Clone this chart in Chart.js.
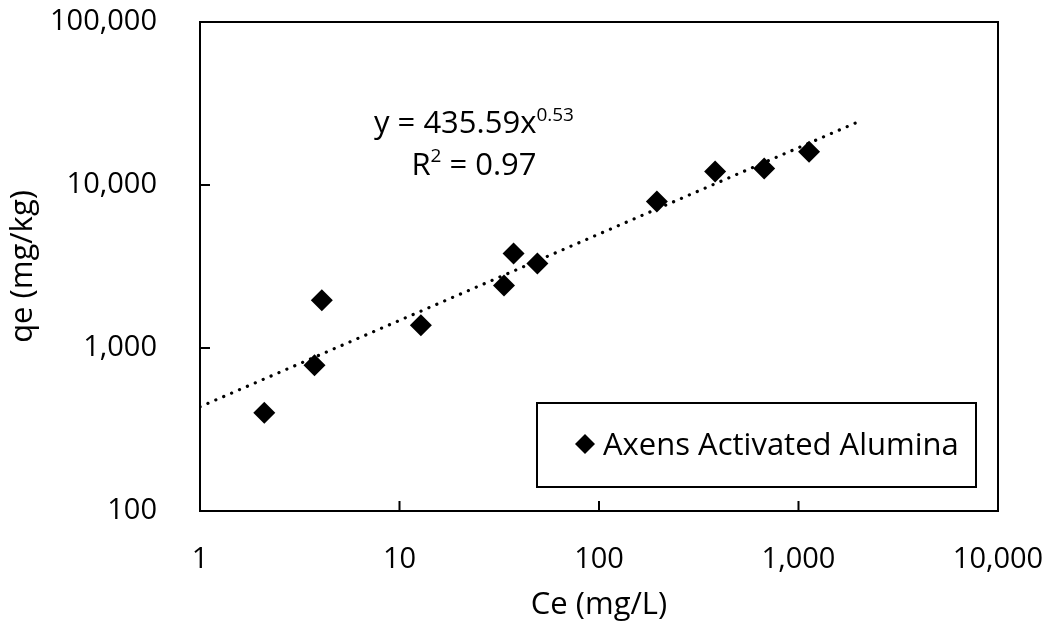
<!DOCTYPE html>
<html>
<head>
<meta charset="utf-8">
<script src="https://cdn.jsdelivr.net/npm/chart.js@4"></script>
<style>
    html, body { margin: 0; padding: 0; background: #fff; }
    #wrap { width: 1052px; height: 629px; position: relative; }
</style>
</head>
<body>
<div id="wrap"><canvas id="isothermChart" width="1052" height="629"></canvas></div>
<script>
// Measured points (Ce in mg/L, qe in mg/kg)
const ceValues = [2.1, 3.75, 4.08, 12.8, 33.4, 37.3, 49.1, 195, 382, 673, 1130];
const qeValues = [400, 783, 1965, 1380, 2417, 3800, 3300, 7920, 12100, 12630, 15990];

// Power trendline end points (straight on log-log axes)
const trendX = [1, 2100];
const trendY = [436, 25100];

// Axis ticks
const xTicks = [1, 10, 100, 1000, 10000];
const xTickLabels = ['1', '10', '100', '1,000', '10,000'];
const yTicks = [100, 1000, 10000, 100000];
const yTickLabels = ['100', '1,000', '10,000', '100,000'];

const seriesName = 'Axens Activated Alumina';
const eqMain = 'y = 435.59x';
const eqPower = '0.53';
const rLabel = 'R';
const rRest = ' = 0.97';

const FONT = '"Open Sans", "Noto Sans", sans-serif';
const FS = 29;   // tick labels
const FT = 31;   // titles, legend, equation
const FSUP = 19; // superscripts

// Frame, inward tick marks, equation and legend box
const framePlugin = {
    id: 'frame',
    afterDatasetsDraw(chart) {
        const ctx = chart.ctx;
        const a = chart.chartArea;
        const xs = chart.scales.x, ys = chart.scales.y;
        ctx.save();
        ctx.strokeStyle = '#000';
        ctx.lineWidth = 2;
        ctx.strokeRect(a.left, a.top, a.right - a.left, a.bottom - a.top);

        // inward ticks
        ctx.beginPath();
        xTicks.forEach(v => {
            const px = xs.getPixelForValue(v);
            ctx.moveTo(px, a.bottom);
            ctx.lineTo(px, a.bottom - 10);
        });
        yTicks.forEach(v => {
            const py = ys.getPixelForValue(v);
            ctx.moveTo(a.left, py);
            ctx.lineTo(a.left + 10, py);
        });
        ctx.stroke();

        // trendline equation
        ctx.fillStyle = '#000';
        ctx.textBaseline = 'alphabetic';
        ctx.textAlign = 'left';
        const cx = 474;
        ctx.font = FT + 'px ' + FONT;
        const w1 = ctx.measureText(eqMain).width;
        ctx.font = FSUP + 'px ' + FONT;
        const w1s = ctx.measureText(eqPower).width;
        let x0 = cx - (w1 + w1s) / 2;
        ctx.font = FT + 'px ' + FONT;
        ctx.fillText(eqMain, x0, 133);
        ctx.font = FSUP + 'px ' + FONT;
        ctx.fillText(eqPower, x0 + w1, 121);

        ctx.font = FT + 'px ' + FONT;
        const wR = ctx.measureText(rLabel).width;
        const wRest = ctx.measureText(rRest).width;
        ctx.font = FSUP + 'px ' + FONT;
        const w2 = ctx.measureText('2').width;
        x0 = cx - (wR + w2 + wRest) / 2;
        ctx.font = FT + 'px ' + FONT;
        ctx.fillText(rLabel, x0, 175);
        ctx.font = FSUP + 'px ' + FONT;
        ctx.fillText('2', x0 + wR, 162);
        ctx.font = FT + 'px ' + FONT;
        ctx.fillText(rRest, x0 + wR + w2, 175);

        // legend box
        const bx = a.right - 461, by = a.bottom - 108, bw = 439, bh = 84;
        ctx.fillStyle = '#fff';
        ctx.fillRect(bx, by, bw, bh);
        ctx.lineWidth = 2;
        ctx.strokeRect(bx, by, bw, bh);
        ctx.fillStyle = '#000';
        const mx = bx + 48, my = by + 41, r = 10;
        ctx.beginPath();
        ctx.moveTo(mx - r, my);
        ctx.lineTo(mx, my - r);
        ctx.lineTo(mx + r, my);
        ctx.lineTo(mx, my + r);
        ctx.closePath();
        ctx.fill();
        ctx.font = FT + 'px ' + FONT;
        ctx.fillText(seriesName, bx + 66, by + 52);
        ctx.restore();
    }
};

document.addEventListener('DOMContentLoaded', function() {
    const ctx = document.getElementById('isothermChart');

    new Chart(ctx, {
        type: 'scatter',
        data: {
            datasets: [
                {
                    label: seriesName,
                    data: ceValues.map((v, i) => ({ x: v, y: qeValues[i] })),
                    pointStyle: 'rectRot',
                    pointRadius: 11,
                    pointBackgroundColor: '#000',
                    pointBorderColor: '#000',
                    pointBorderWidth: 0,
                    showLine: false,
                    order: 1
                },
                {
                    label: 'Power trend',
                    data: trendX.map((v, i) => ({ x: v, y: trendY[i] })),
                    showLine: true,
                    pointRadius: 0,
                    borderColor: '#000',
                    borderWidth: 3.2,
                    borderDash: [0.1, 8.5],
                    borderCapStyle: 'round',
                    order: 2
                }
            ]
        },
        options: {
            responsive: false,
            animation: false,
            events: [],
            layout: { padding: { top: 22, right: 54, left: 0, bottom: 0 } },
            plugins: {
                legend: { display: false },
                tooltip: { enabled: false }
            },
            scales: {
                x: {
                    type: 'logarithmic',
                    min: 1,
                    max: 10000,
                    afterFit: s => {
                        s.height = 118;
                        s.paddingLeft = 0;
                        s.paddingRight = 0;
                    },
                    afterBuildTicks: s => { s.ticks = xTicks.map(v => ({ value: v })); },
                    grid: { display: false },
                    border: { display: false },
                    ticks: {
                        autoSkip: false,
                        maxRotation: 0,
                        padding: 23,
                        color: '#000',
                        font: { family: FONT, size: FS },
                        callback: (v) => xTickLabels[xTicks.indexOf(v)]
                    },
                    title: {
                        display: true,
                        text: 'Ce (mg/L)',
                        color: '#000',
                        font: { family: FONT, size: FT },
                        padding: { top: 0, bottom: 5 }
                    }
                },
                y: {
                    type: 'logarithmic',
                    min: 100,
                    max: 100000,
                    afterFit: s => {
                        s.width = 200;
                        s.paddingTop = 0;
                        s.paddingBottom = 0;
                    },
                    afterBuildTicks: s => { s.ticks = yTicks.map(v => ({ value: v })); },
                    grid: { display: false },
                    border: { display: false },
                    ticks: {
                        autoSkip: false,
                        padding: 35,
                        color: '#000',
                        font: { family: FONT, size: FS },
                        callback: (v) => yTickLabels[yTicks.indexOf(v)]
                    },
                    title: {
                        display: true,
                        text: 'qe (mg/kg)',
                        color: '#000',
                        font: { family: FONT, size: FT },
                        padding: { top: 5, bottom: 0 }
                    }
                }
            }
        },
        plugins: [framePlugin]
    });
});
</script>
</body>
</html>
